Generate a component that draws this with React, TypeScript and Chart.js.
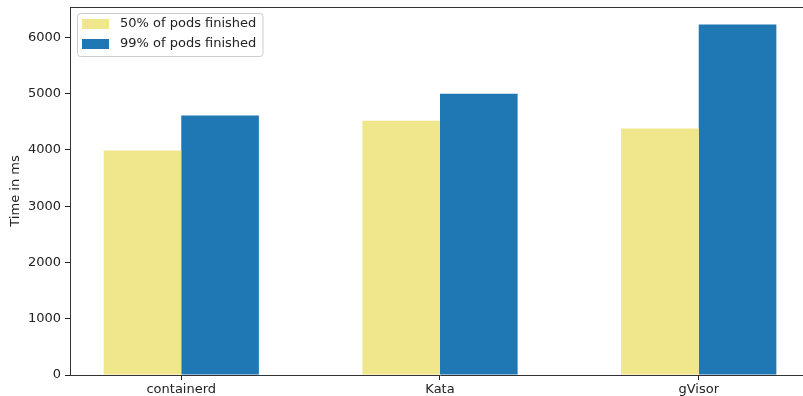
import React, { useEffect, useRef } from "react";
import { Chart, registerables } from "chart.js";

Chart.register(...registerables);

const categories = ["containerd", "Kata", "gVisor"];
const seriesLabels = ["50% of pods finished", "99% of pods finished"];
const pods50 = [3990, 4520, 4380];
const pods99 = [4610, 5000, 6230];
const yTicks = [0, 1000, 2000, 3000, 4000, 5000, 6000];

const FONT = "'DejaVu Sans', sans-serif";
const COLORS = ["#F0E68C", "#1F77B4"];

const framePlugin = {
  id: "frame",
  afterDraw(chart: any) {
    const { ctx, chartArea } = chart;
    ctx.save();
    // top spine
    ctx.strokeStyle = "#333";
    ctx.lineWidth = 1;
    ctx.beginPath();
    ctx.moveTo(chartArea.left, Math.round(chartArea.top) + 0.5);
    ctx.lineTo(chartArea.right, Math.round(chartArea.top) + 0.5);
    ctx.stroke();

    // legend
    const lx = chartArea.left + 7.5;
    const ly = chartArea.top + 6.5;
    const lw = 185.5;
    const lh = 43;
    const r = 3;
    ctx.beginPath();
    ctx.moveTo(lx + r, ly);
    ctx.lineTo(lx + lw - r, ly);
    ctx.arcTo(lx + lw, ly, lx + lw, ly + r, r);
    ctx.lineTo(lx + lw, ly + lh - r);
    ctx.arcTo(lx + lw, ly + lh, lx + lw - r, ly + lh, r);
    ctx.lineTo(lx + r, ly + lh);
    ctx.arcTo(lx, ly + lh, lx, ly + lh - r, r);
    ctx.lineTo(lx, ly + r);
    ctx.arcTo(lx, ly, lx + r, ly, r);
    ctx.closePath();
    ctx.fillStyle = "rgba(255,255,255,0.8)";
    ctx.fill();
    ctx.strokeStyle = "#cccccc";
    ctx.stroke();

    ctx.font = `13px ${FONT}`;
    ctx.textBaseline = "middle";
    ctx.textAlign = "left";
    chart.data.datasets.forEach((ds: any, i: number) => {
      const py = ly + 5.5 + i * 20;
      ctx.fillStyle = ds.backgroundColor;
      ctx.fillRect(lx + 4.5, py, 27, 10);
      ctx.fillStyle = "#222";
      ctx.fillText(ds.label, lx + 42.5, py + 5);
    });
    ctx.restore();
  },
};

export default function App() {
  const ref = useRef<HTMLCanvasElement>(null);

  useEffect(() => {
    if (!ref.current) return;
    const chart = new Chart(ref.current, {
      type: "bar",
      data: {
        datasets: [
          {
            label: seriesLabels[0],
            data: pods50.map((v, i) => ({ x: i, y: v })),
            backgroundColor: COLORS[0],
            borderWidth: 0,
          },
          {
            label: seriesLabels[1],
            data: pods99.map((v, i) => ({ x: i, y: v })),
            backgroundColor: COLORS[1],
            borderWidth: 0,
          },
        ],
      },
      options: {
        responsive: false,
        animation: false,
        categoryPercentage: 0.6,
        barPercentage: 1.0,
        layout: { padding: { top: 7, left: 0, right: 0, bottom: 0 } },
        plugins: {
          legend: { display: false },
          tooltip: { enabled: false },
        },
        scales: {
          x: {
            type: "linear",
            offset: false,
            min: -0.43,
            max: 2.43,
            afterBuildTicks: (scale: any) => {
              scale.ticks = categories.map((_, i) => ({ value: i }));
            },
            afterFit: (scale: any) => {
              scale.height = 21;
              scale.paddingLeft = 0;
              scale.paddingRight = 0;
            },
            ticks: {
              callback: (v: any) => categories[v] ?? "",
              font: { family: FONT, size: 13 },
              color: "#222",
              padding: 2,
              maxRotation: 0,
              autoSkip: false,
            },
            grid: {
              offset: false,
              drawOnChartArea: false,
              drawTicks: true,
              tickLength: 5,
              tickColor: "#222",
              tickWidth: 1,
            },
            border: { display: true, color: "#333", width: 1 },
          },
          y: {
            min: 0,
            max: 6540,
            afterBuildTicks: (scale: any) => {
              scale.ticks = yTicks.map((v) => ({ value: v }));
            },
            afterFit: (scale: any) => {
              scale.width = 70;
              scale.paddingTop = 0;
              scale.paddingBottom = 0;
            },
            ticks: {
              callback: (v: any) => String(v),
              font: { family: FONT, size: 13 },
              color: "#222",
              padding: 4,
            },
            grid: {
              drawOnChartArea: false,
              drawTicks: true,
              tickLength: 5,
              tickColor: "#222",
              tickWidth: 1,
            },
            border: { display: true, color: "#333", width: 1 },
            title: {
              display: true,
              text: "Time in ms",
              font: { family: FONT, size: 13 },
              color: "#222",
              padding: { top: 8, bottom: 0 },
            },
          },
        },
      },
      plugins: [framePlugin],
    });
    return () => chart.destroy();
  }, []);

  return (
    <div style={{ position: "fixed", left: 0, top: 0, width: 803, height: 396, overflow: "hidden", background: "#fff" }}>
      <canvas ref={ref} width={810} height={396} style={{ display: "block" }} />
    </div>
  );
}
